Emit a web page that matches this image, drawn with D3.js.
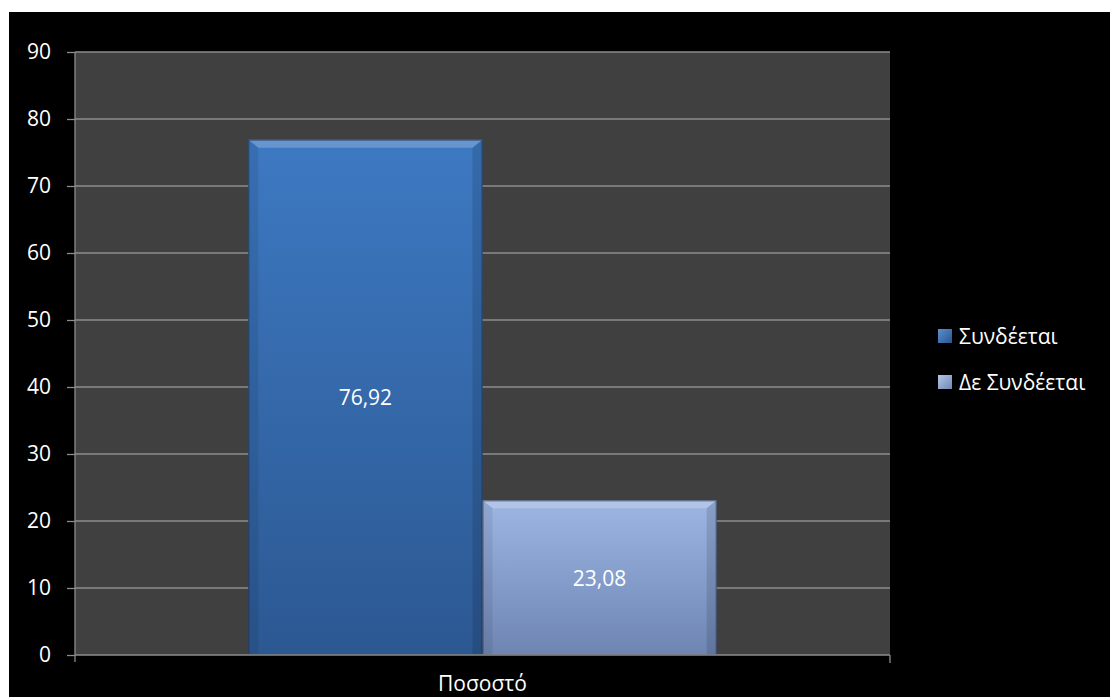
<!DOCTYPE html>
<html>
<head>
<meta charset="utf-8">
<script src="https://cdn.jsdelivr.net/npm/d3@7"></script>
<style>
  html, body { margin: 0; padding: 0; background: #ffffff; }
  svg { display: block; }
</style>
</head>
<body>
<svg id="chart" width="1110" height="697"></svg>
<script>
// Chart data
const categories = ["Ποσοστό"];
const seriesNames = ["Συνδέεται", "Δε Συνδέεται"];
const seriesValues = [76.92, 23.08];
const valueLabels = ["76,92", "23,08"];
const yTicks = [0, 10, 20, 30, 40, 50, 60, 70, 80, 90];

const svg = d3.select("#chart");
const W = 1110, H = 697;
const font = "'Open Sans', 'Noto Sans', sans-serif";
const fs = 21;

const plot = { left: 75, right: 890, top: 52, bottom: 655 };

// Black chart background
svg.append("rect").attr("x", 9).attr("y", 12).attr("width", W - 9).attr("height", H - 12).attr("fill", "#000");

// Plot area
svg.append("rect")
  .attr("x", plot.left).attr("y", plot.top)
  .attr("width", plot.right - plot.left).attr("height", plot.bottom - plot.top)
  .attr("fill", "#404040");

const y = d3.scaleLinear().domain([0, 90]).range([plot.bottom, plot.top]);
const x0 = d3.scaleBand().domain(categories).range([plot.left, plot.right]).paddingInner(0).paddingOuter(0.37);
const x1 = d3.scaleBand().domain(seriesNames).range([0, x0.bandwidth()]).padding(0);

// Gradients
const defs = svg.append("defs");
const grads = [
  { id: "g0", top: "#3d79c2", bottom: "#2c5892", legend: ["#5a8fd0", "#2a5590"] },
  { id: "g1", top: "#9db6e3", bottom: "#6e85b4", legend: ["#b4c7ea", "#7288b4"] }
];
grads.forEach(g => {
  const lg = defs.append("linearGradient").attr("id", g.id).attr("x1", 0).attr("y1", 0).attr("x2", 0).attr("y2", 1);
  lg.append("stop").attr("offset", "0%").attr("stop-color", g.top);
  lg.append("stop").attr("offset", "100%").attr("stop-color", g.bottom);
  const lg2 = defs.append("linearGradient").attr("id", g.id + "L").attr("x1", 0).attr("y1", 0).attr("x2", 1).attr("y2", 1);
  lg2.append("stop").attr("offset", "0%").attr("stop-color", g.legend[0]);
  lg2.append("stop").attr("offset", "100%").attr("stop-color", g.legend[1]);
});

// Gridlines
svg.append("g").selectAll("line").data(yTicks.filter(t => t > 0)).join("line")
  .attr("x1", plot.left).attr("x2", plot.right)
  .attr("y1", d => y(d)).attr("y2", d => y(d))
  .attr("stroke", "#8c8c8c").attr("stroke-width", 1.3);

// Bars with bevelled edges
const bevel = 10;
const barG = svg.append("g");
categories.forEach(cat => {
  seriesValues.forEach((v, i) => {
    const bx = x0(cat) + x1(seriesNames[i]);
    const bw = x1.bandwidth();
    const by = y(v);
    const bh = y(0) - by;
    const g = barG.append("g");
    g.append("rect").attr("x", bx).attr("y", by).attr("width", bw).attr("height", bh)
      .attr("fill", `url(#${grads[i].id})`);
    // top bevel highlight
    g.append("polygon")
      .attr("points", [[bx, by], [bx + bw, by], [bx + bw - bevel, by + bevel * 0.8], [bx + bevel, by + bevel * 0.8]].map(p => p.join(",")).join(" "))
      .attr("fill", "#ffffff").attr("opacity", 0.22);
    // left bevel
    g.append("polygon")
      .attr("points", [[bx, by], [bx + bevel, by + bevel * 0.8], [bx + bevel, y(0)], [bx, y(0)]].map(p => p.join(",")).join(" "))
      .attr("fill", "#000").attr("opacity", 0.08);
    // right bevel
    g.append("polygon")
      .attr("points", [[bx + bw, by], [bx + bw - bevel, by + bevel * 0.8], [bx + bw - bevel, y(0)], [bx + bw, y(0)]].map(p => p.join(",")).join(" "))
      .attr("fill", "#000").attr("opacity", 0.12);
    // outline
    g.append("rect").attr("x", bx + 0.5).attr("y", by + 0.5).attr("width", bw - 1).attr("height", bh - 1)
      .attr("fill", "none").attr("stroke", "#1e2a3a").attr("stroke-opacity", 0.6).attr("stroke-width", 1);
    // value label
    g.append("text").attr("x", bx + bw / 2).attr("y", by + bh / 2)
      .attr("text-anchor", "middle").attr("dominant-baseline", "central")
      .attr("fill", "#ffffff").attr("font-family", font).attr("font-size", fs)
      .text(valueLabels[i]);
  });
});

// Axes lines
svg.append("line").attr("x1", plot.left).attr("x2", plot.left).attr("y1", plot.top).attr("y2", plot.bottom + 7)
  .attr("stroke", "#8c8c8c").attr("stroke-width", 1.3);
svg.append("line").attr("x1", plot.left).attr("x2", plot.right).attr("y1", plot.bottom).attr("y2", plot.bottom)
  .attr("stroke", "#8c8c8c").attr("stroke-width", 1.3);
svg.append("line").attr("x1", plot.right).attr("x2", plot.right).attr("y1", plot.bottom).attr("y2", plot.bottom + 8)
  .attr("stroke", "#8c8c8c").attr("stroke-width", 1.3);

// Y axis
const yAxis = d3.axisLeft(y).tickValues(yTicks).tickSize(8).tickPadding(16);
const yg = svg.append("g").attr("transform", `translate(${plot.left},0)`).call(yAxis);
yg.select(".domain").remove();
yg.selectAll(".tick line").attr("stroke", "#8c8c8c").attr("stroke-width", 1.3);
yg.selectAll(".tick text").attr("fill", "#ffffff").attr("font-family", font).attr("font-size", fs);

// X axis label
svg.append("g").selectAll("text").data(categories).join("text")
  .attr("x", d => x0(d) + x0.bandwidth() / 2).attr("y", 691)
  .attr("text-anchor", "middle").attr("fill", "#ffffff")
  .attr("font-family", font).attr("font-size", fs)
  .text(d => d);

// Legend
const legend = svg.append("g").attr("transform", "translate(938,329)");
seriesNames.forEach((name, i) => {
  const row = legend.append("g").attr("transform", `translate(0,${i * 46})`);
  row.append("rect").attr("width", 14).attr("height", 14).attr("fill", `url(#${grads[i].id}L)`);
  row.append("text").attr("x", 21).attr("y", 7).attr("dominant-baseline", "central")
    .attr("fill", "#ffffff").attr("font-family", font).attr("font-size", fs)
    .text(name);
});
</script>
</body>
</html>
